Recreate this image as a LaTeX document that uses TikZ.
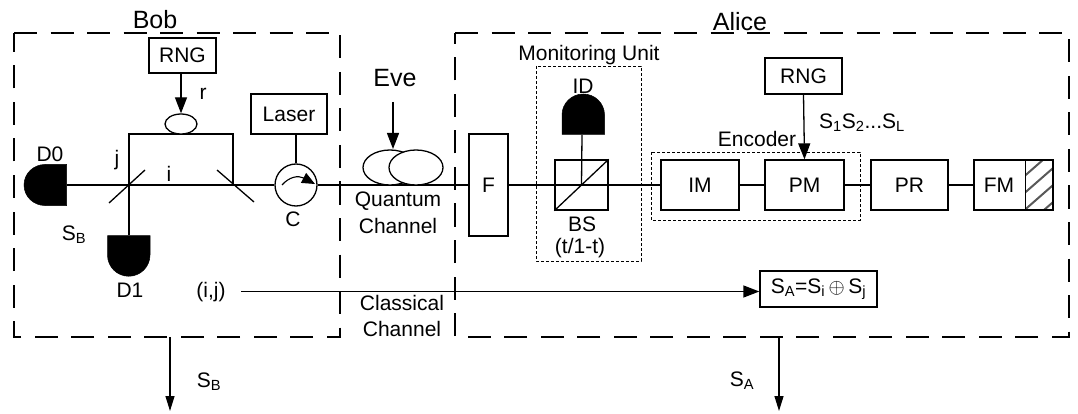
\documentclass[tikz,border=0pt]{standalone}
\usepackage{fontspec}
\setmainfont{Liberation Sans}
\usetikzlibrary{arrows.meta,calc,shapes.geometric}
\newcommand{\fsz}[1]{\fontsize{#1}{#1}\selectfont}
\tikzset{
  x=1pt,y=-1pt,
  every node/.style={font=\fsz{21}},
  ln/.style={draw=black,line width=1.3pt},
  arr/.style={ln,-{Triangle[length=16pt,width=12pt]},shorten >=0pt},
  blk/.style={draw=black,line width=1.3pt,fill=white,inner sep=0pt,rectangle},
  lbl/.style={inner sep=0pt},
  big/.style={inner sep=0pt,font=\fsz{25}},
  outer/.style={draw=black,line width=1.2pt,dash pattern=on 23pt off 13.5pt},
  inner box/.style={draw=black,line width=0.9pt,dash pattern=on 3pt off 2pt},
  det/.style={fill=black,draw=black,line width=0.5pt}
}
\newcommand{\bx}[6]{\node[blk,minimum width=#4 pt,minimum height=#5 pt] (#1) at (#2,#3) {#6};}
\begin{document}
\begin{tikzpicture}
\useasboundingbox (0,0) rectangle (1078,414);
% outer dashed boxes
\draw[outer] (14,33) -- (340,33) -- (340,337) -- (14,337) -- cycle;
\draw[outer] (455,33) -- (1069,33) -- (1069,337) -- (455,337) -- cycle;
\node[big] (bob) at (155,20) {Bob};
\node[big] (alice) at (740,22) {Alice};
% monitoring / encoder
\draw[inner box] (536,66) rectangle (641,261);
\draw[inner box] (651,152) rectangle (860,220);
\node[lbl] (mu) at (589,55) {Monitoring Unit};
\node[lbl] (enc) at (757,139) {Encoder};
% main-line coordinates
\coordinate (d0e) at (67,185);
\coordinate (m1) at (129,185);
\coordinate (m2) at (233,185);
\coordinate (t1) at (129,134);
\coordinate (t2) at (233,134);
\node[circle,draw=black,line width=1.3pt,fill=white,minimum size=42pt,inner sep=0pt] (C) at (296,185) {};
\bx{F}{488.5}{185}{39}{102}{F}
% connectors on the main line
\draw[ln] (d0e) -- (C.west);
\draw[ln] (C.east) -- (F.west);
\draw[ln] (m1) -- (t1) -- (t2) -- (m2);
\draw[ln] (109,203) -- (145,170);
\draw[ln] (217,170) -- (254,202);
% Bob top
\bx{rngb}{182.5}{55.5}{67}{35}{RNG}
\node[ellipse,draw=black,line width=1.3pt,fill=white,minimum width=32pt,minimum height=20pt,inner sep=0pt] (pc) at (181,124) {};
\draw[arr] (rngb.south -| pc) -- (pc.north);
\node[lbl] (r) at (203,94) {r};
\node[lbl] (j) at (117,160) {j};
\node[lbl] (i) at (169,174) {i};
% detectors
\coordinate (d1t) at (129,235);
\draw[ln] (m1) -- (d1t);
\fill[det] (107.5,235.5) -- (150,235.5) -- (150,255) arc[start angle=0,end angle=180,radius=21.25] -- cycle;
\fill[det] (66.5,164.5) -- (66.5,205.5) -- (45,205.5) arc[start angle=90,end angle=270,x radius=21,y radius=20.5] -- cycle;
\node[lbl] (D0) at (50,154) {D0};
\node[lbl] (D1) at (130,290) {D1};
\node[lbl] (SB) at (74,235) {S\textsubscript{B}};
% Laser, circulator
\bx{laser}{289}{114}{76}{40}{Laser}
\draw[ln] (laser.south -| C) -- (C.north);
\draw[line width=1.1pt,-{Triangle[length=13pt,width=11pt]}] (282,185) .. controls (289,177) and (298,175) .. (315,184);
\node[lbl] (Cl) at (293,219) {C};
% Eve
\node[big] (eve) at (395,78) {Eve};
\node[ellipse,draw=black,line width=1.3pt,fill=white,minimum width=54pt,minimum height=35pt,inner sep=0pt] (e1) at (390,167.5) {};
\node[ellipse,draw=black,line width=1.3pt,fill=white,minimum width=54pt,minimum height=35pt,inner sep=0pt] (e2) at (416,167.5) {};
\coordinate (evs) at (393,102);
\draw[arr] (evs) -- (393,149);
\node[lbl] (qc1) at (398,201) {Quantum};
\node[lbl] (qc2) at (398,226) {Channel};
\node[lbl] (cc1) at (402,303) {Classical};
\node[lbl] (cc2) at (402,329) {Channel};
% Alice chain
\bx{IM}{700}{185}{78}{50}{IM}
\bx{PM}{804.5}{185}{79}{50}{PM}
\bx{PR}{909.5}{185}{77}{50}{PR}
\node[blk,minimum width=79pt,minimum height=50pt] (FM) at (1013.5,185) {};
\node[lbl] (FMt) at (999,185) {FM};
\begin{scope}
\clip (1025,160) rectangle (1053,210);
\foreach \k in {0,17,...,85}{\draw[black!65,line width=2pt] (1020,{180+\k}) -- (1060,{145+\k});}
\end{scope}
\draw[line width=1pt] (1025,160) -- (1025,210);
\draw[blk,fill=none] (974,160) rectangle (1053,210);
% BS
\node[blk,minimum width=53pt,minimum height=50pt] (BS) at (581.5,185) {};
\draw[ln] (F.east) -- (BS.west);
\draw[ln] (BS.west) -- (BS.east);
\draw[ln] (BS.south west) -- (BS.north east);
\draw[ln] (BS.east) -- (IM.west);
\draw[ln] (IM.east) -- (PM.west);
\draw[ln] (PM.east) -- (PR.west);
\draw[ln] (PR.east) -- (FM.west);
\node[lbl] (bsl) at (582,224) {BS};
\node[lbl] (bst) at (580,248) {(t/1-t)};
% ID detector
\coordinate (idb) at (582,135);
\draw[ln] (idb) -- (BS.center);
\fill[det] (562,134.5) -- (604.5,134.5) -- (604.5,115) arc[start angle=0,end angle=-180,x radius=21.25,y radius=21] -- cycle;
\node[lbl] (ID) at (583,86) {ID};
% RNG Alice
\bx{rnga}{803.5}{76}{77}{36}{RNG}
\draw[arr] (rnga.south) -- (PM.north);
\node[lbl,anchor=west] (s12) at (819,123) {S\textsubscript{1}S\textsubscript{2}...S\textsubscript{L}};
% classical
\bx{sa}{818.5}{289}{117}{36}{S\textsubscript{A}=S\textsubscript{i}\,$\oplus$\,S\textsubscript{j}}
\node[lbl] (ij) at (211,292) {(i,j)};
\coordinate (cs) at (241,291.5);
\draw[arr] (cs) -- (cs -| sa.west);
% outputs
\coordinate (ob) at (170,337); \coordinate (oa) at (779,337);
\coordinate (obe) at (170,411); \coordinate (oae) at (779,411);
\draw[ln,-{Triangle[length=15pt,width=9pt]}] (ob) -- (obe);
\draw[ln,-{Triangle[length=15pt,width=9pt]}] (oa) -- (oae);
\node[lbl] (sbo) at (209,382) {S\textsubscript{B}};
\node[lbl] (sao) at (742,381) {S\textsubscript{A}};
\end{tikzpicture}
\end{document}
